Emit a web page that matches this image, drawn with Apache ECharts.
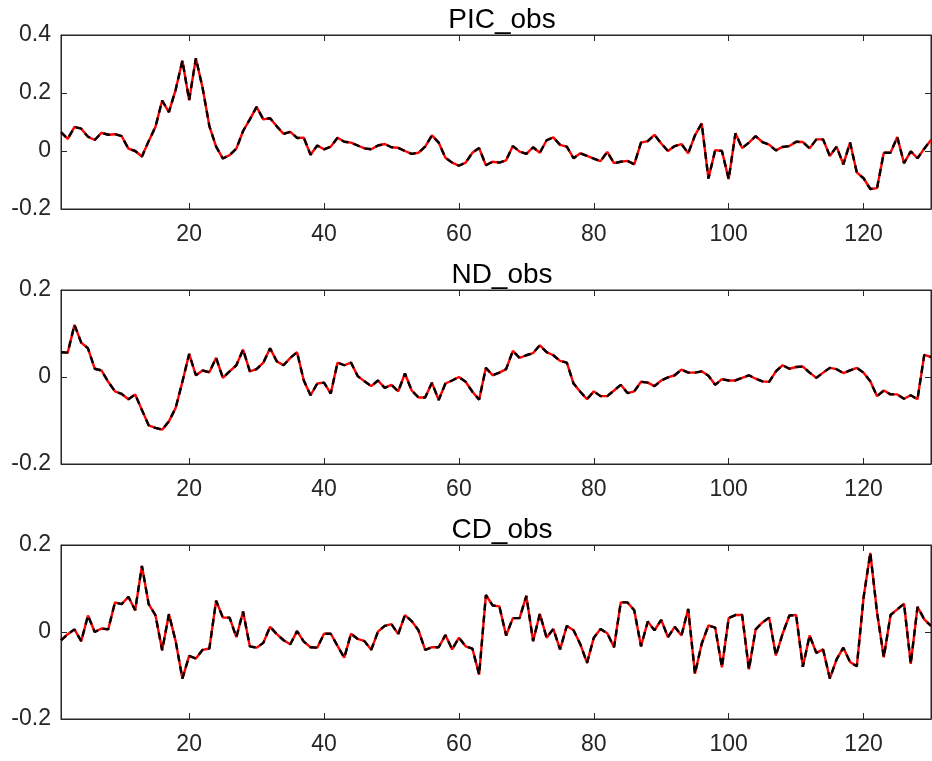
<!DOCTYPE html>
<html>
<head>
<meta charset="utf-8">
<script src="https://cdn.jsdelivr.net/npm/echarts@6/dist/echarts.min.js"></script>
<style>
  html, body { margin: 0; padding: 0; background: #fff; }
  #chart { width: 932px; height: 761px; }
</style>
</head>
<body>
<div id="chart"></div>
<script>
(function(){

    // panel titles
    var titles = ['PIC_obs', 'ND_obs', 'CD_obs'],

        xTicks = [20, 40, 60, 80, 100, 120],

        // PIC_obs (x = 1..130)
        pic = [0.065,0.042,0.083,0.077,0.049,0.038,0.063,0.056,0.058,0.051,
               0.008,0.0,-0.019,0.034,0.083,0.174,0.134,0.211,0.312,0.175,
               0.32,0.217,0.086,0.015,-0.026,-0.014,0.008,0.069,0.109,0.152,
               0.109,0.113,0.085,0.059,0.066,0.045,0.046,-0.013,0.019,0.006,
               0.015,0.046,0.032,0.029,0.019,0.009,0.006,0.019,0.024,0.013,
               0.011,0.0,-0.010,-0.006,0.015,0.054,0.029,-0.023,-0.04,-0.051,
               -0.04,-0.006,0.010,-0.049,-0.037,-0.04,-0.032,0.017,-0.002,-0.01,
               0.013,-0.006,0.037,0.047,0.021,0.015,-0.025,-0.008,-0.017,-0.026,
               -0.035,-0.003,-0.042,-0.037,-0.034,-0.046,0.029,0.034,0.056,0.026,
               0.0,0.017,0.024,-0.008,0.054,0.095,-0.095,0.003,0.0,-0.097,
               0.061,0.01,0.029,0.051,0.031,0.022,0.002,0.014,0.017,0.032,
               0.031,0.009,0.04,0.04,-0.017,0.015,-0.046,0.029,-0.074,-0.094,
               -0.131,-0.128,-0.006,-0.006,0.048,-0.042,-0.001,-0.025,0.008,0.038],

        // ND_obs
        nd = [0.057,0.056,0.12,0.079,0.066,0.019,0.015,-0.011,-0.033,-0.039,
              -0.051,-0.04,-0.076,-0.111,-0.117,-0.121,-0.102,-0.071,-0.011,0.053,
              0.004,0.015,0.011,0.044,-0.002,0.013,0.027,0.063,0.013,0.018,
              0.033,0.066,0.036,0.027,0.044,0.057,-0.008,-0.042,-0.015,-0.013,
              -0.038,0.033,0.027,0.033,0.002,-0.01,-0.021,-0.008,-0.025,-0.018,
              -0.033,0.008,-0.031,-0.047,-0.047,-0.013,-0.053,-0.015,-0.008,0.0,
              -0.011,-0.034,-0.052,0.021,0.004,0.01,0.018,0.06,0.044,0.05,
              0.055,0.073,0.057,0.05,0.037,0.033,-0.015,-0.034,-0.051,-0.033,
              -0.044,-0.044,-0.031,-0.018,-0.037,-0.033,-0.011,-0.013,-0.021,-0.008,
              -0.001,0.004,0.017,0.01,0.01,0.013,0.003,-0.018,-0.005,-0.008,
              -0.008,-0.002,0.004,-0.004,-0.01,-0.011,0.013,0.027,0.019,0.023,
              0.024,0.01,-0.002,0.01,0.021,0.018,0.009,0.015,0.021,0.01,
              -0.01,-0.044,-0.031,-0.04,-0.04,-0.05,-0.042,-0.051,0.051,0.046],

        // CD_obs
        cd = [-0.019,-0.005,0.006,-0.021,0.038,0.0,0.008,0.006,0.068,0.064,
              0.081,0.05,0.152,0.064,0.039,-0.042,0.041,-0.021,-0.107,-0.055,
              -0.061,-0.041,-0.038,0.072,0.033,0.033,-0.012,0.047,-0.033,-0.036,
              -0.025,0.012,-0.005,-0.019,-0.028,0.002,-0.022,-0.035,-0.036,-0.004,
              -0.004,-0.032,-0.059,-0.004,-0.016,-0.021,-0.041,0.001,0.014,0.018,
              -0.005,0.039,0.025,0.004,-0.041,-0.035,-0.035,-0.007,-0.04,-0.013,
              -0.033,-0.038,-0.098,0.085,0.061,0.059,-0.008,0.032,0.032,0.083,
              -0.021,0.042,-0.013,0.007,-0.04,0.014,0.004,-0.028,-0.071,-0.013,
              0.007,-0.003,-0.035,0.068,0.068,0.05,-0.033,0.024,0.004,0.028,
              -0.012,0.012,-0.008,0.053,-0.096,-0.027,0.015,0.01,-0.081,0.032,
              0.039,0.039,-0.086,0.006,0.022,0.033,-0.054,-0.004,0.038,0.039,
              -0.08,-0.008,-0.048,-0.04,-0.107,-0.063,-0.036,-0.069,-0.079,0.079,
              0.182,0.045,-0.058,0.039,0.052,0.065,-0.073,0.058,0.029,0.014],

        panels = [pic, nd, cd],
        yMin = [-0.2, -0.2, -0.2],
        yMax = [0.4, 0.2, 0.2],
        gridTop = [35, 290, 545],

        axisColor = '#262626',
        font = '"Liberation Sans", Arial, Helvetica, sans-serif',

        chart = echarts.init(document.getElementById('chart'))

    function toPairs(arr){
        return arr.map(function(v, i){ return [i + 1, v] })
    }

    var option = {
        backgroundColor: '#ffffff',
        animation: false,
        title: [],
        grid: [],
        xAxis: [],
        yAxis: [],
        series: []
    }

    panels.forEach(function(data, k){

        option.title.push({
            text: titles[k],
            left: 497,
            top: gridTop[k] - 34,
            textAlign: 'center',
            textStyle: { fontFamily: font, fontSize: 28, fontWeight: 'normal', color: '#000' }
        })

        option.grid.push({
            left: 61, right: 1, top: gridTop[k], height: 174,
            show: true, borderColor: axisColor, borderWidth: 1,
            containLabel: false
        })

        // bottom x axis with labels
        option.xAxis.push({
            type: 'value', gridIndex: k, min: 1, max: 130,
            axisLine: { show: true, onZero: false, lineStyle: { color: axisColor } },
            axisTick: { show: true, inside: true, length: 6, customValues: xTicks, lineStyle: { color: axisColor } },
            axisLabel: { customValues: xTicks, color: axisColor, fontSize: 23, fontFamily: font, margin: 14 },
            splitLine: { show: false }
        })
        // top x axis, ticks only
        option.xAxis.push({
            type: 'value', gridIndex: k, min: 1, max: 130, position: 'top',
            axisLine: { show: true, onZero: false, lineStyle: { color: axisColor } },
            axisTick: { show: true, inside: true, length: 6, customValues: xTicks, lineStyle: { color: axisColor } },
            axisLabel: { show: false },
            splitLine: { show: false }
        })

        option.yAxis.push({
            type: 'value', gridIndex: k, min: yMin[k], max: yMax[k], interval: 0.2,
            axisLine: { show: true, onZero: false, lineStyle: { color: axisColor } },
            axisTick: { show: true, inside: true, length: 6, lineStyle: { color: axisColor } },
            axisLabel: {
                color: axisColor, fontSize: 23, fontFamily: font, margin: 10,
                formatter: function(v){ return String(Math.round(v * 10) / 10) }
            },
            splitLine: { show: false }
        })
        option.yAxis.push({
            type: 'value', gridIndex: k, min: yMin[k], max: yMax[k], interval: 0.2, position: 'right',
            axisLine: { show: true, onZero: false, lineStyle: { color: axisColor } },
            axisTick: { show: true, inside: true, length: 6, lineStyle: { color: axisColor } },
            axisLabel: { show: false },
            splitLine: { show: false }
        })

        // red solid, then black dashed on top (same observations)
        option.series.push({
            type: 'line', xAxisIndex: k * 2, yAxisIndex: k * 2,
            data: toPairs(data), showSymbol: false, z: 2,
            lineStyle: { color: '#ff0000', width: 2.4 }
        })
        option.series.push({
            type: 'line', xAxisIndex: k * 2, yAxisIndex: k * 2,
            data: toPairs(data), showSymbol: false, z: 3,
            lineStyle: { color: '#000000', width: 2.4, type: [7, 5] }
        })
    })

    chart.setOption(option)

})()
</script>
</body>
</html>
